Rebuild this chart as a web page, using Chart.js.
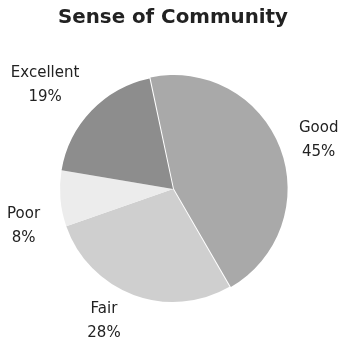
<!DOCTYPE html>
<html>
<head>
<meta charset="utf-8">
<script src="https://cdn.jsdelivr.net/npm/chart.js@4"></script>
<style>
  html, body { margin: 0; padding: 0; background: #fff; }
  #wrap { width: 341px; height: 343px; }
</style>
</head>
<body>
<div id="wrap"><canvas id="myChart"></canvas></div>
<script>
const categories = ['Good', 'Fair', 'Poor', 'Excellent'];
const percents = [45, 28, 8, 19];
const sliceColors = ['#a9a9a9', '#cfcfcf', '#ececec', '#8d8d8d'];
// small shifts so the outside labels don't crowd the pie
const labelNudge = [[1, 7], [-15, -13], [5, 24], [-16, 3]];

// labels sit outside the pie: name on one line, percentage under it
const outsideLabels = {
  id: 'outsideLabels',
  afterDatasetsDraw(chart) {
    const ctx = chart.ctx;
    const meta = chart.getDatasetMeta(0);
    ctx.save();
    ctx.font = '15px "DejaVu Sans", Verdana, sans-serif';
    ctx.fillStyle = '#222';
    ctx.textAlign = 'center';
    ctx.textBaseline = 'middle';
    meta.data.forEach(function(arc, i) {
      const p = arc.getProps(['x', 'y', 'startAngle', 'endAngle', 'outerRadius']);
      const mid = (p.startAngle + p.endAngle) / 2;
      const r = p.outerRadius + 42;
      const x = p.x + Math.cos(mid) * r + labelNudge[i][0];
      const y = p.y + Math.sin(mid) * r + labelNudge[i][1];
      ctx.fillText(categories[i], x, y - 12);
      ctx.fillText(percents[i] + '%', x, y + 12);
    });
    ctx.restore();
  }
};

const data = {
  labels: categories,
  datasets: [{
    data: percents,
    backgroundColor: sliceColors,
    borderWidth: 0,
    offset: [4, 0, 0, 0]
  }]
};

const config = {
  type: 'pie',
  data: data,
  options: {
    responsive: true,
    maintainAspectRatio: false,
    animation: false,
    rotation: -12,
    layout: { padding: { left: 58, right: 53, top: 0, bottom: 39 } },
    plugins: {
      legend: { display: false },
      tooltip: { enabled: false },
      title: {
        display: true,
        text: 'Sense of Community',
        color: '#222',
        font: { family: '"DejaVu Sans", Verdana, sans-serif', size: 20, weight: 'bold' },
        padding: { top: 6, bottom: 44 }
      }
    }
  },
  plugins: [outsideLabels]
};

const myChart = new Chart(document.getElementById('myChart'), config);
</script>
</body>
</html>
